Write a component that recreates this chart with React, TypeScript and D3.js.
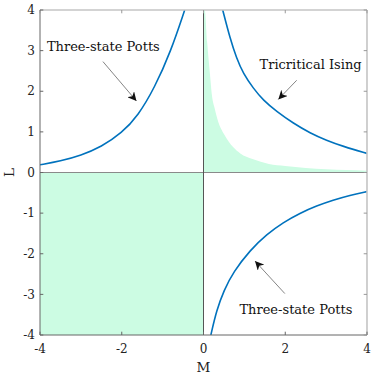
import React, { useEffect, useRef } from "react";
import * as d3 from "d3";

// curves, [M, L]
const pottsUpper: [number, number][] = [
  [-4, 0.19], [-3.5, 0.28], [-3.0, 0.42], [-2.5, 0.63], [-2.0, 0.97],
  [-1.6, 1.4], [-1.2, 2.08], [-0.8, 2.98], [-0.46, 4.0],
];
const tricritical: [number, number][] = [
  [0.47, 4.0], [0.65, 3.3], [0.81, 2.81], [0.97, 2.44], [1.22, 2.07], [1.46, 1.78],
  [1.79, 1.5], [2.2, 1.21], [2.61, 0.97], [3.01, 0.79], [3.42, 0.64], [4.0, 0.47],
];
const pottsLower: [number, number][] = [
  [0.18, -4.0], [0.32, -3.39], [0.5, -2.9], [0.73, -2.45], [1.14, -1.91], [1.55, -1.52],
  [1.95, -1.23], [2.36, -1.0], [2.77, -0.82], [3.17, -0.68], [3.58, -0.56], [4.0, -0.47],
];
// shaded area upper right (upper edge)
const greenEdge: [number, number][] = [
  [0.03, 4.0], [0.09, 3.2], [0.16, 2.4], [0.2, 1.95], [0.28, 1.55], [0.36, 1.25],
  [0.5, 0.95], [0.73, 0.62], [0.9, 0.47], [1.2, 0.33], [1.6, 0.21], [2.0, 0.16],
  [2.5, 0.11], [3.0, 0.08], [3.5, 0.06], [4.0, 0.045],
];

const yTicks = [-4, -3, -2, -1, 0, 1, 2, 3, 4];
const xTicks = [-4, -2, 0, 2, 4];

// label text, text centre [M, L], arrow from [M, L] to [M, L]
const notes = [
  { text: "Three-state Potts", at: [-2.45, 3.0], from: [-2.46, 2.73], to: [-1.64, 1.76] },
  { text: "Tricritical Ising", at: [2.62, 2.55], from: [2.28, 2.27], to: [1.83, 1.8] },
  { text: "Three-state Potts", at: [2.26, -3.49], from: [1.99, -2.98], to: [1.26, -2.18] },
];

export default function App() {
  const ref = useRef<SVGSVGElement>(null);

  useEffect(() => {
    const svg = d3.select(ref.current);
    svg.selectAll("*").remove();

    const x = d3.scaleLinear().domain([-4, 4]).range([40, 367]);
    const y = d3.scaleLinear().domain([-4, 4]).range([335, 10]);
    const font = "DejaVu Serif";
    const green = "#ccfce3";
    const blue = "#0072bd";

    svg.append("defs").append("clipPath").attr("id", "plot")
      .append("rect").attr("x", x(-4)).attr("y", y(4))
      .attr("width", x(4) - x(-4)).attr("height", y(-4) - y(4));

    svg.append("defs").append("marker")
      .attr("id", "head").attr("viewBox", "0 0 10 10")
      .attr("refX", 10).attr("refY", 5)
      .attr("markerWidth", 9).attr("markerHeight", 9)
      .attr("markerUnits", "userSpaceOnUse")
      .attr("orient", "auto")
      .append("path").attr("d", "M0,0 L10,5 L0,10 L3,5 Z").attr("fill", "#111");

    const plot = svg.append("g").attr("clip-path", "url(#plot)");

    // lower-left quadrant
    plot.append("rect")
      .attr("x", x(-4)).attr("y", y(0))
      .attr("width", x(0) - x(-4)).attr("height", y(-4) - y(0))
      .attr("fill", green);

    // upper-right shaded region
    const area = d3.area<[number, number]>()
      .x((d) => x(d[0])).y0(y(0)).y1((d) => y(d[1]))
      .curve(d3.curveMonotoneX);
    plot.append("path")
      .attr("d", area([[0, 4], ...greenEdge]))
      .attr("fill", green);

    // zero lines
    plot.append("line")
      .attr("x1", x(-4)).attr("x2", x(4)).attr("y1", y(0)).attr("y2", y(0))
      .attr("stroke", "#8a8a8a").attr("stroke-width", 1);
    plot.append("line")
      .attr("x1", x(0)).attr("x2", x(0)).attr("y1", y(-4)).attr("y2", y(4))
      .attr("stroke", "#555").attr("stroke-width", 1);

    const line = d3.line<[number, number]>()
      .x((d) => x(d[0])).y((d) => y(d[1]))
      .curve(d3.curveBasis);
    [pottsUpper, tricritical, pottsLower].forEach((c) => {
      plot.append("path")
        .attr("d", line(c))
        .attr("fill", "none").attr("stroke", blue).attr("stroke-width", 1.6);
    });

    // box
    svg.append("line").attr("x1", x(-4)).attr("x2", x(4)).attr("y1", y(4)).attr("y2", y(4))
      .attr("stroke", "#c4c4c4").attr("stroke-width", 1.6);
    svg.append("line").attr("x1", x(4)).attr("x2", x(4)).attr("y1", y(-4)).attr("y2", y(4))
      .attr("stroke", "#c4c4c4").attr("stroke-width", 1.6);
    svg.append("line").attr("x1", x(-4)).attr("x2", x(4)).attr("y1", y(-4)).attr("y2", y(-4))
      .attr("stroke", "#666").attr("stroke-width", 1);
    svg.append("line").attr("x1", x(-4)).attr("x2", x(-4)).attr("y1", y(-4)).attr("y2", y(4))
      .attr("stroke", "#666").attr("stroke-width", 1);

    const tl = 3.3;
    xTicks.forEach((t) => {
      svg.append("line").attr("x1", x(t)).attr("x2", x(t))
        .attr("y1", y(-4)).attr("y2", y(-4) - tl).attr("stroke", "#666");
      svg.append("line").attr("x1", x(t)).attr("x2", x(t))
        .attr("y1", y(4)).attr("y2", y(4) + tl).attr("stroke", "#999");
      svg.append("text").attr("x", x(t)).attr("y", y(-4) + 18)
        .attr("text-anchor", "middle").attr("font-family", font)
        .attr("font-size", 12).attr("fill", "#222").text(String(t));
    });
    yTicks.forEach((t) => {
      svg.append("line").attr("x1", x(-4)).attr("x2", x(-4) + tl)
        .attr("y1", y(t)).attr("y2", y(t)).attr("stroke", "#666");
      svg.append("line").attr("x1", x(4)).attr("x2", x(4) - tl)
        .attr("y1", y(t)).attr("y2", y(t)).attr("stroke", "#999");
      svg.append("text").attr("x", x(-4) - 5).attr("y", y(t))
        .attr("dy", "0.35em").attr("text-anchor", "end").attr("font-family", font)
        .attr("font-size", 12).attr("fill", "#222").text(String(t));
    });

    svg.append("text").attr("x", x(0)).attr("y", 372)
      .attr("text-anchor", "middle").attr("font-family", font)
      .attr("font-size", 13.5).attr("fill", "#222").text("M");
    svg.append("text")
      .attr("transform", `translate(14,${y(0)}) rotate(-90)`)
      .attr("text-anchor", "middle").attr("font-family", font)
      .attr("font-size", 13.5).attr("fill", "#222").text("L");

    notes.forEach((n) => {
      svg.append("line")
        .attr("x1", x(n.from[0])).attr("y1", y(n.from[1]))
        .attr("x2", x(n.to[0])).attr("y2", y(n.to[1]))
        .attr("stroke", "#333").attr("stroke-width", 0.6)
        .attr("marker-end", "url(#head)");
      svg.append("text")
        .attr("x", x(n.at[0])).attr("y", y(n.at[1]))
        .attr("text-anchor", "middle").attr("font-family", font)
        .attr("font-size", 13).attr("fill", "#111").text(n.text);
    });
  }, []);

  return (
    <svg
      ref={ref}
      width={374}
      height={375}
      style={{ position: "absolute", left: 0, top: 0, background: "#fff" }}
    />
  );
}
